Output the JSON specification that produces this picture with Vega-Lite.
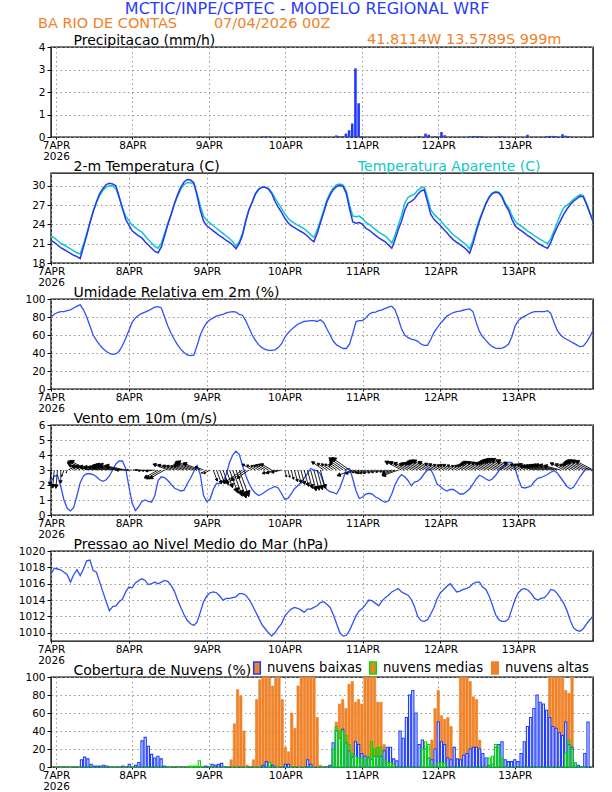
{
"$schema":"https://vega.github.io/schema/vega-lite/v6.json",
"padding":{"left":17,"top":1,"right":5,"bottom":0},
"background":"white",
"bounds":"flush",
"spacing":36,
"resolve":{"scale":{"stroke":"independent","size":"independent"},"legend":{"stroke":"independent","size":"independent"}},
"title":{"text":"MCTIC/INPE/CPTEC - MODELO REGIONAL WRF","color":"#2a3cf5","fontSize":16,"font":"DejaVu Sans","fontWeight":"normal","anchor":"middle","frame":"bounds","offset":-2},
"config":{
"font":"DejaVu Sans",
"view":{"stroke":"black","strokeWidth":1.4},
"axis":{"labelFont":"DejaVu Sans","labelFontSize":10.5,"labelColor":"black","domain":false,"grid":true,"gridColor":"#999999","gridDash":[1.5,3],"tickColor":"black","titleFont":"DejaVu Sans","titleFontSize":14,"titleFontWeight":"normal","titleColor":"black","labelOverlap":false},
"axisY":{"tickSize":4,"labelPadding":2},
"axisX":{"tickSize":2,"labelPadding":1}
},
"datasets":{"h":[
{"t":0,"p":0,"T":21.5,"A":22.2,"rh":80,"ws":2.2,"wd":185,"slp":1017.2,"lo":0,"mi":0,"hi":0},
{"t":1,"p":0,"T":21.2,"A":21.9,"rh":83,"ws":2.6,"wd":185,"slp":1017.9,"lo":0,"mi":0,"hi":0},
{"t":2,"p":0,"T":20.8,"A":21.5,"rh":85,"ws":2.65,"wd":185,"slp":1017.8,"lo":0,"mi":0,"hi":0},
{"t":3,"p":0,"T":20.4,"A":21.1,"rh":86,"ws":1.9,"wd":180,"slp":1017.7,"lo":0,"mi":0,"hi":0},
{"t":4,"p":0,"T":20.1,"A":20.8,"rh":86,"ws":1.0,"wd":200,"slp":1017.4,"lo":0,"mi":0,"hi":0},
{"t":5,"p":0,"T":19.8,"A":20.5,"rh":87,"ws":0.45,"wd":200,"slp":1017.1,"lo":0,"mi":0,"hi":0},
{"t":6,"p":0,"T":19.5,"A":20.2,"rh":88,"ws":0.27,"wd":300,"slp":1016.2,"lo":0,"mi":0,"hi":0},
{"t":7,"p":0,"T":19.2,"A":19.9,"rh":90,"ws":0.5,"wd":300,"slp":1017.1,"lo":0,"mi":0,"hi":0},
{"t":8,"p":0,"T":19.0,"A":19.6,"rh":92,"ws":1.3,"wd":300,"slp":1017.7,"lo":8,"mi":0,"hi":0},
{"t":9,"p":0,"T":18.7,"A":19.4,"rh":93.5,"ws":2.15,"wd":300,"slp":1017.0,"lo":11,"mi":0,"hi":0},
{"t":10,"p":0,"T":20.5,"A":20.9,"rh":88,"ws":2.6,"wd":300,"slp":1017.8,"lo":9,"mi":0,"hi":0},
{"t":11,"p":0,"T":22.3,"A":22.6,"rh":80,"ws":2.75,"wd":300,"slp":1018.8,"lo":3,"mi":0,"hi":0},
{"t":12,"p":0,"T":24.2,"A":24.4,"rh":70,"ws":2.75,"wd":282,"slp":1018.9,"lo":1,"mi":0,"hi":0},
{"t":13,"p":0,"T":26.0,"A":26.0,"rh":60,"ws":2.7,"wd":282,"slp":1017.6,"lo":1,"mi":0,"hi":0},
{"t":14,"p":0,"T":27.5,"A":27.4,"rh":54,"ws":2.55,"wd":282,"slp":1017.4,"lo":1,"mi":0,"hi":0},
{"t":15,"p":0,"T":28.8,"A":28.5,"rh":49,"ws":2.35,"wd":282,"slp":1016.2,"lo":2,"mi":0,"hi":0},
{"t":16,"p":0,"T":29.6,"A":29.3,"rh":45,"ws":2.25,"wd":282,"slp":1015.0,"lo":1,"mi":0,"hi":0},
{"t":17,"p":0,"T":30.2,"A":29.8,"rh":42,"ws":2.35,"wd":282,"slp":1013.8,"lo":0,"mi":0,"hi":0},
{"t":18,"p":0,"T":30.4,"A":30.0,"rh":39.5,"ws":2.6,"wd":282,"slp":1012.7,"lo":0,"mi":0,"hi":0},
{"t":19,"p":0,"T":30.3,"A":30.0,"rh":38.5,"ws":3.0,"wd":282,"slp":1013.2,"lo":0,"mi":0,"hi":0},
{"t":20,"p":0,"T":30.0,"A":29.5,"rh":39,"ws":3.4,"wd":282,"slp":1013.3,"lo":0,"mi":0,"hi":0},
{"t":21,"p":0,"T":28.3,"A":28.2,"rh":42,"ws":3.6,"wd":282,"slp":1013.8,"lo":1,"mi":0,"hi":0},
{"t":22,"p":0,"T":26.5,"A":26.6,"rh":48,"ws":3.6,"wd":282,"slp":1014.1,"lo":0,"mi":0,"hi":0},
{"t":23,"p":0,"T":24.8,"A":25.3,"rh":56,"ws":3.1,"wd":282,"slp":1015.0,"lo":3,"mi":0,"hi":0},
{"t":24,"p":0,"T":23.9,"A":24.6,"rh":65,"ws":1.9,"wd":270,"slp":1015.6,"lo":0,"mi":0,"hi":0},
{"t":25,"p":0,"T":23.0,"A":23.9,"rh":74,"ws":0.8,"wd":270,"slp":1015.5,"lo":2,"mi":0,"hi":0},
{"t":26,"p":0,"T":22.6,"A":23.5,"rh":79,"ws":0.3,"wd":270,"slp":1016.1,"lo":5,"mi":0,"hi":0},
{"t":27,"p":0,"T":22.2,"A":23.1,"rh":82,"ws":0.55,"wd":270,"slp":1016.4,"lo":29,"mi":0,"hi":0},
{"t":28,"p":0,"T":21.9,"A":22.8,"rh":84,"ws":0.9,"wd":270,"slp":1016.6,"lo":33,"mi":0,"hi":0},
{"t":29,"p":0,"T":21.3,"A":22.2,"rh":85.5,"ws":1.0,"wd":262,"slp":1016.4,"lo":23,"mi":0,"hi":0},
{"t":30,"p":0,"T":20.8,"A":21.6,"rh":87,"ws":0.9,"wd":262,"slp":1015.9,"lo":14,"mi":0,"hi":0},
{"t":31,"p":0,"T":20.3,"A":21.1,"rh":89,"ws":0.85,"wd":262,"slp":1016.0,"lo":10,"mi":0,"hi":0},
{"t":32,"p":0,"T":19.8,"A":20.6,"rh":91,"ws":1.3,"wd":262,"slp":1016.2,"lo":12,"mi":0,"hi":0},
{"t":33,"p":0,"T":19.6,"A":20.3,"rh":91.5,"ws":2.3,"wd":240,"slp":1016.0,"lo":9,"mi":0,"hi":0},
{"t":34,"p":0,"T":20.5,"A":21.1,"rh":90,"ws":2.55,"wd":240,"slp":1016.2,"lo":1,"mi":0,"hi":0},
{"t":35,"p":0,"T":22.2,"A":22.6,"rh":80,"ws":2.5,"wd":240,"slp":1016.4,"lo":0,"mi":0,"hi":0},
{"t":36,"p":0,"T":24.0,"A":24.2,"rh":70,"ws":2.3,"wd":292,"slp":1016.3,"lo":0,"mi":0,"hi":0},
{"t":37,"p":0,"T":25.5,"A":25.6,"rh":62,"ws":2.05,"wd":292,"slp":1015.8,"lo":0,"mi":0,"hi":0},
{"t":38,"p":0,"T":27.2,"A":27.1,"rh":55,"ws":1.8,"wd":292,"slp":1015.1,"lo":0,"mi":0,"hi":0},
{"t":39,"p":0,"T":28.6,"A":28.4,"rh":49,"ws":1.7,"wd":292,"slp":1014.0,"lo":0,"mi":0,"hi":0},
{"t":40,"p":0,"T":29.8,"A":29.5,"rh":44,"ws":1.6,"wd":292,"slp":1013.1,"lo":0,"mi":0,"hi":0},
{"t":41,"p":0,"T":30.6,"A":30.2,"rh":40.5,"ws":1.65,"wd":292,"slp":1012.2,"lo":0,"mi":0,"hi":0},
{"t":42,"p":0,"T":31.0,"A":30.5,"rh":38,"ws":2.1,"wd":292,"slp":1011.5,"lo":0,"mi":1,"hi":0},
{"t":43,"p":0,"T":30.9,"A":30.5,"rh":37,"ws":2.45,"wd":292,"slp":1011.1,"lo":0,"mi":1,"hi":0},
{"t":44,"p":0,"T":30.5,"A":30.3,"rh":37.5,"ws":2.9,"wd":292,"slp":1010.9,"lo":0,"mi":1,"hi":0},
{"t":45,"p":0.03,"T":28.5,"A":28.8,"rh":48,"ws":3.3,"wd":292,"slp":1011.3,"lo":0,"mi":7,"hi":0},
{"t":46,"p":0,"T":26.2,"A":26.9,"rh":60,"ws":2.7,"wd":292,"slp":1012.5,"lo":0,"mi":0,"hi":0},
{"t":47,"p":0,"T":24.5,"A":25.3,"rh":68,"ws":1.3,"wd":292,"slp":1013.8,"lo":1,"mi":0,"hi":0},
{"t":48,"p":0,"T":23.8,"A":24.6,"rh":74,"ws":0.9,"wd":240,"slp":1014.5,"lo":0,"mi":0,"hi":0},
{"t":49,"p":0,"T":23.4,"A":24.2,"rh":77,"ws":1.05,"wd":240,"slp":1014.9,"lo":3,"mi":0,"hi":0},
{"t":50,"p":0,"T":23.0,"A":23.8,"rh":79,"ws":1.7,"wd":160,"slp":1015.0,"lo":2,"mi":0,"hi":0},
{"t":51,"p":0,"T":22.6,"A":23.4,"rh":81,"ws":2.1,"wd":160,"slp":1014.9,"lo":3,"mi":0,"hi":0},
{"t":52,"p":0,"T":22.2,"A":23.0,"rh":82,"ws":2.1,"wd":160,"slp":1014.5,"lo":4,"mi":0,"hi":0},
{"t":53,"p":0,"T":21.9,"A":22.6,"rh":83,"ws":2.25,"wd":160,"slp":1014.0,"lo":0,"mi":0,"hi":0},
{"t":54,"p":0,"T":21.5,"A":22.2,"rh":84.5,"ws":2.7,"wd":160,"slp":1014.2,"lo":0,"mi":0,"hi":0},
{"t":55,"p":0,"T":21.2,"A":21.8,"rh":85.5,"ws":3.5,"wd":160,"slp":1014.2,"lo":0,"mi":0,"hi":8},
{"t":56,"p":0,"T":20.8,"A":21.3,"rh":86,"ws":4.0,"wd":160,"slp":1014.3,"lo":0,"mi":0,"hi":48},
{"t":57,"p":0,"T":20.2,"A":20.6,"rh":85.5,"ws":4.25,"wd":160,"slp":1014.4,"lo":0,"mi":0,"hi":86},
{"t":58,"p":0,"T":21.0,"A":21.3,"rh":83,"ws":4.05,"wd":160,"slp":1014.8,"lo":0,"mi":0,"hi":79},
{"t":59,"p":0,"T":22.3,"A":22.6,"rh":82,"ws":3.3,"wd":235,"slp":1014.8,"lo":0,"mi":0,"hi":40},
{"t":60,"p":0,"T":24.5,"A":24.6,"rh":76,"ws":2.65,"wd":235,"slp":1014.6,"lo":0,"mi":0,"hi":2},
{"t":61,"p":0,"T":26.3,"A":26.3,"rh":68,"ws":2.1,"wd":235,"slp":1014.1,"lo":0,"mi":0,"hi":0},
{"t":62,"p":0,"T":27.5,"A":27.5,"rh":60,"ws":1.7,"wd":300,"slp":1013.4,"lo":0,"mi":0,"hi":8},
{"t":63,"p":0,"T":28.8,"A":28.7,"rh":54,"ws":1.45,"wd":300,"slp":1012.6,"lo":0,"mi":0,"hi":75},
{"t":64,"p":0,"T":29.5,"A":29.4,"rh":49,"ws":1.3,"wd":300,"slp":1011.8,"lo":0,"mi":0,"hi":97},
{"t":65,"p":0.03,"T":29.8,"A":29.8,"rh":46,"ws":1.4,"wd":300,"slp":1011.0,"lo":2,"mi":0,"hi":100},
{"t":66,"p":0.03,"T":29.8,"A":29.8,"rh":44,"ws":1.55,"wd":300,"slp":1010.5,"lo":6,"mi":0,"hi":100},
{"t":67,"p":0.03,"T":29.5,"A":29.6,"rh":43,"ws":1.7,"wd":300,"slp":1010.0,"lo":5,"mi":5,"hi":100},
{"t":68,"p":0,"T":28.8,"A":29.0,"rh":43,"ws":1.8,"wd":300,"slp":1009.6,"lo":2,"mi":0,"hi":90},
{"t":69,"p":0,"T":27.6,"A":28.1,"rh":43.5,"ws":1.9,"wd":255,"slp":1010.0,"lo":0,"mi":0,"hi":100},
{"t":70,"p":0,"T":26.7,"A":27.3,"rh":46,"ws":1.8,"wd":255,"slp":1010.6,"lo":0,"mi":0,"hi":100},
{"t":71,"p":0,"T":25.9,"A":26.5,"rh":50,"ws":1.45,"wd":255,"slp":1011.1,"lo":0,"mi":0,"hi":75},
{"t":72,"p":0,"T":25.0,"A":25.7,"rh":57,"ws":1.05,"wd":165,"slp":1012.0,"lo":3,"mi":0,"hi":22},
{"t":73,"p":0,"T":24.3,"A":25.0,"rh":62,"ws":1.1,"wd":165,"slp":1012.5,"lo":3,"mi":0,"hi":17},
{"t":74,"p":0,"T":23.8,"A":24.5,"rh":66,"ws":1.4,"wd":165,"slp":1012.9,"lo":0,"mi":0,"hi":60},
{"t":75,"p":0,"T":23.5,"A":24.2,"rh":69,"ws":1.75,"wd":165,"slp":1013.1,"lo":0,"mi":0,"hi":43},
{"t":76,"p":0,"T":23.2,"A":23.9,"rh":72,"ws":1.95,"wd":165,"slp":1013.0,"lo":0,"mi":0,"hi":90},
{"t":77,"p":0,"T":22.9,"A":23.6,"rh":73.5,"ws":2.15,"wd":165,"slp":1012.8,"lo":0,"mi":0,"hi":100},
{"t":78,"p":0,"T":22.6,"A":23.3,"rh":75,"ws":2.45,"wd":165,"slp":1012.5,"lo":0,"mi":0,"hi":100},
{"t":79,"p":0,"T":22.2,"A":22.9,"rh":75.5,"ws":2.75,"wd":165,"slp":1012.9,"lo":8,"mi":0,"hi":100},
{"t":80,"p":0,"T":21.7,"A":22.4,"rh":76,"ws":3.1,"wd":165,"slp":1012.9,"lo":3,"mi":0,"hi":100},
{"t":81,"p":0,"T":21.3,"A":22.0,"rh":76,"ws":3.0,"wd":165,"slp":1013.1,"lo":0,"mi":0,"hi":100},
{"t":82,"p":0,"T":22.6,"A":23.1,"rh":75,"ws":2.95,"wd":165,"slp":1013.3,"lo":0,"mi":0,"hi":55},
{"t":83,"p":0,"T":24.2,"A":24.6,"rh":77,"ws":2.75,"wd":165,"slp":1013.7,"lo":0,"mi":0,"hi":2},
{"t":84,"p":0,"T":25.8,"A":26.2,"rh":74,"ws":2.1,"wd":305,"slp":1013.8,"lo":0,"mi":0,"hi":0},
{"t":85,"p":0,"T":27.5,"A":27.8,"rh":67,"ws":1.7,"wd":305,"slp":1013.5,"lo":0,"mi":0,"hi":0},
{"t":86,"p":0,"T":28.6,"A":28.9,"rh":60,"ws":1.55,"wd":305,"slp":1013.1,"lo":2,"mi":0,"hi":0},
{"t":87,"p":0,"T":29.4,"A":29.7,"rh":53,"ws":1.5,"wd":305,"slp":1012.2,"lo":27,"mi":20,"hi":8},
{"t":88,"p":0.07,"T":29.9,"A":30.2,"rh":49,"ws":1.4,"wd":305,"slp":1011.1,"lo":40,"mi":45,"hi":50},
{"t":89,"p":0.03,"T":30.1,"A":30.3,"rh":47,"ws":1.8,"wd":305,"slp":1010.0,"lo":32,"mi":40,"hi":70},
{"t":90,"p":0.03,"T":29.9,"A":30.1,"rh":45,"ws":2.4,"wd":305,"slp":1009.6,"lo":42,"mi":40,"hi":75},
{"t":91,"p":0.15,"T":28.8,"A":29.2,"rh":45,"ws":3.05,"wd":305,"slp":1009.7,"lo":27,"mi":35,"hi":65},
{"t":92,"p":0.3,"T":26.4,"A":27.0,"rh":50,"ws":3.1,"wd":305,"slp":1010.3,"lo":18,"mi":25,"hi":92},
{"t":93,"p":0.6,"T":24.4,"A":25.3,"rh":62,"ws":2.4,"wd":250,"slp":1011.2,"lo":11,"mi":15,"hi":95},
{"t":94,"p":3.05,"T":24.2,"A":25.2,"rh":75,"ws":1.6,"wd":250,"slp":1012.1,"lo":28,"mi":12,"hi":72},
{"t":95,"p":1.5,"T":24.3,"A":25.3,"rh":76,"ws":1.1,"wd":250,"slp":1012.7,"lo":25,"mi":10,"hi":75},
{"t":96,"p":0.03,"T":24.0,"A":24.9,"rh":76,"ws":1.2,"wd":250,"slp":1013.0,"lo":15,"mi":10,"hi":70},
{"t":97,"p":0,"T":23.4,"A":24.3,"rh":79,"ws":1.4,"wd":250,"slp":1013.5,"lo":12,"mi":8,"hi":100},
{"t":98,"p":0,"T":23.1,"A":24.0,"rh":83,"ws":1.45,"wd":250,"slp":1014.0,"lo":10,"mi":12,"hi":100},
{"t":99,"p":0,"T":22.7,"A":23.6,"rh":85,"ws":1.4,"wd":250,"slp":1013.9,"lo":8,"mi":28,"hi":100},
{"t":100,"p":0,"T":22.3,"A":23.2,"rh":85.5,"ws":1.2,"wd":250,"slp":1013.6,"lo":12,"mi":20,"hi":100},
{"t":101,"p":0,"T":21.9,"A":22.8,"rh":87,"ws":1.1,"wd":250,"slp":1013.3,"lo":12,"mi":22,"hi":72},
{"t":102,"p":0,"T":21.6,"A":22.5,"rh":88,"ws":0.95,"wd":250,"slp":1013.9,"lo":12,"mi":22,"hi":72},
{"t":103,"p":0,"T":21.3,"A":22.2,"rh":89.5,"ws":0.85,"wd":250,"slp":1014.3,"lo":18,"mi":8,"hi":25},
{"t":104,"p":0,"T":20.8,"A":21.7,"rh":91,"ws":0.95,"wd":250,"slp":1014.6,"lo":22,"mi":5,"hi":8},
{"t":105,"p":0,"T":20.3,"A":21.1,"rh":92,"ws":1.4,"wd":250,"slp":1015.0,"lo":22,"mi":5,"hi":0},
{"t":106,"p":0,"T":21.6,"A":22.3,"rh":88,"ws":2.0,"wd":250,"slp":1015.2,"lo":9,"mi":3,"hi":0},
{"t":107,"p":0,"T":23.2,"A":23.9,"rh":78,"ws":2.45,"wd":250,"slp":1015.4,"lo":7,"mi":0,"hi":0},
{"t":108,"p":0.02,"T":24.5,"A":25.4,"rh":67,"ws":2.7,"wd":298,"slp":1015.0,"lo":40,"mi":0,"hi":0},
{"t":109,"p":0,"T":26.2,"A":27.3,"rh":60,"ws":2.55,"wd":298,"slp":1014.8,"lo":32,"mi":0,"hi":0},
{"t":110,"p":0,"T":27.3,"A":28.2,"rh":57,"ws":2.3,"wd":298,"slp":1014.6,"lo":55,"mi":0,"hi":0},
{"t":111,"p":0,"T":27.6,"A":28.5,"rh":55.5,"ws":1.95,"wd":298,"slp":1014.1,"lo":80,"mi":0,"hi":0},
{"t":112,"p":0,"T":28.0,"A":28.7,"rh":54.5,"ws":2.2,"wd":298,"slp":1013.2,"lo":85,"mi":0,"hi":0},
{"t":113,"p":0,"T":28.7,"A":29.3,"rh":53,"ws":2.25,"wd":298,"slp":1012.0,"lo":60,"mi":0,"hi":0},
{"t":114,"p":0.04,"T":29.2,"A":29.7,"rh":50,"ws":2.45,"wd":298,"slp":1011.5,"lo":25,"mi":0,"hi":0},
{"t":115,"p":0,"T":29.4,"A":29.8,"rh":48.5,"ws":2.75,"wd":298,"slp":1011.4,"lo":30,"mi":20,"hi":0},
{"t":116,"p":0.15,"T":27.5,"A":28.2,"rh":48.5,"ws":3.0,"wd":298,"slp":1011.6,"lo":20,"mi":28,"hi":0},
{"t":117,"p":0.1,"T":25.6,"A":26.3,"rh":55,"ws":3.05,"wd":298,"slp":1012.3,"lo":10,"mi":25,"hi":5},
{"t":118,"p":0,"T":24.8,"A":25.6,"rh":63,"ws":2.6,"wd":298,"slp":1013.1,"lo":8,"mi":3,"hi":30},
{"t":119,"p":0.04,"T":24.3,"A":25.1,"rh":68,"ws":2.05,"wd":298,"slp":1014.2,"lo":20,"mi":0,"hi":65},
{"t":120,"p":0,"T":23.8,"A":24.6,"rh":73,"ws":1.9,"wd":298,"slp":1014.9,"lo":50,"mi":5,"hi":85},
{"t":121,"p":0.22,"T":23.2,"A":24.0,"rh":77,"ws":1.7,"wd":298,"slp":1015.3,"lo":28,"mi":5,"hi":57},
{"t":122,"p":0.08,"T":22.7,"A":23.5,"rh":81,"ws":1.6,"wd":298,"slp":1015.7,"lo":25,"mi":4,"hi":53},
{"t":123,"p":0,"T":22.1,"A":22.9,"rh":83,"ws":1.7,"wd":298,"slp":1016.0,"lo":10,"mi":0,"hi":55},
{"t":124,"p":0,"T":21.6,"A":22.4,"rh":85,"ws":1.7,"wd":298,"slp":1015.5,"lo":8,"mi":0,"hi":45},
{"t":125,"p":0,"T":21.2,"A":22.0,"rh":86,"ws":1.55,"wd":298,"slp":1015.0,"lo":22,"mi":0,"hi":22},
{"t":126,"p":0,"T":20.9,"A":21.6,"rh":86.5,"ws":1.4,"wd":298,"slp":1015.1,"lo":9,"mi":0,"hi":5},
{"t":127,"p":0,"T":20.5,"A":21.2,"rh":87.5,"ws":1.4,"wd":298,"slp":1015.3,"lo":8,"mi":0,"hi":100},
{"t":128,"p":0,"T":20.1,"A":20.8,"rh":88.5,"ws":1.55,"wd":298,"slp":1015.4,"lo":13,"mi":0,"hi":100},
{"t":129,"p":0,"T":19.5,"A":20.2,"rh":89,"ws":1.75,"wd":298,"slp":1015.6,"lo":15,"mi":0,"hi":100},
{"t":130,"p":0.03,"T":21.0,"A":21.5,"rh":86,"ws":2.05,"wd":298,"slp":1016.0,"lo":20,"mi":0,"hi":95},
{"t":131,"p":0.04,"T":22.8,"A":23.2,"rh":74,"ws":2.4,"wd":298,"slp":1016.2,"lo":22,"mi":0,"hi":78},
{"t":132,"p":0.04,"T":24.5,"A":24.8,"rh":64,"ws":2.65,"wd":298,"slp":1016.2,"lo":22,"mi":0,"hi":75},
{"t":133,"p":0.04,"T":25.9,"A":26.1,"rh":58,"ws":2.55,"wd":298,"slp":1015.6,"lo":20,"mi":0,"hi":30},
{"t":134,"p":0.03,"T":27.2,"A":27.3,"rh":54,"ws":2.4,"wd":298,"slp":1015.3,"lo":15,"mi":0,"hi":5},
{"t":135,"p":0,"T":28.2,"A":28.3,"rh":50,"ws":2.3,"wd":298,"slp":1014.5,"lo":10,"mi":0,"hi":0},
{"t":136,"p":0,"T":28.8,"A":28.9,"rh":47,"ws":2.4,"wd":298,"slp":1013.4,"lo":2,"mi":10,"hi":0},
{"t":137,"p":0,"T":29.0,"A":29.1,"rh":45.5,"ws":2.65,"wd":298,"slp":1012.2,"lo":3,"mi":12,"hi":0},
{"t":138,"p":0,"T":28.9,"A":29.0,"rh":45,"ws":2.95,"wd":298,"slp":1011.6,"lo":22,"mi":25,"hi":0},
{"t":139,"p":0.03,"T":28.2,"A":28.4,"rh":45.5,"ws":3.15,"wd":298,"slp":1011.4,"lo":25,"mi":22,"hi":0},
{"t":140,"p":0.03,"T":27.0,"A":27.3,"rh":47,"ws":3.35,"wd":298,"slp":1011.4,"lo":28,"mi":10,"hi":0},
{"t":141,"p":0,"T":26.2,"A":26.6,"rh":50,"ws":3.5,"wd":298,"slp":1011.7,"lo":8,"mi":0,"hi":0},
{"t":142,"p":0,"T":24.8,"A":25.4,"rh":58,"ws":3.5,"wd":298,"slp":1012.9,"lo":6,"mi":0,"hi":0},
{"t":143,"p":0,"T":23.8,"A":24.5,"rh":70,"ws":3.1,"wd":298,"slp":1014.1,"lo":6,"mi":0,"hi":0},
{"t":144,"p":0,"T":23.3,"A":24.0,"rh":76,"ws":2.4,"wd":298,"slp":1014.9,"lo":8,"mi":0,"hi":0},
{"t":145,"p":0,"T":23.0,"A":23.7,"rh":79,"ws":1.85,"wd":298,"slp":1015.3,"lo":6,"mi":0,"hi":0},
{"t":146,"p":0,"T":22.6,"A":23.3,"rh":81,"ws":1.8,"wd":298,"slp":1015.4,"lo":15,"mi":0,"hi":0},
{"t":147,"p":0,"T":22.2,"A":22.9,"rh":83,"ws":1.85,"wd":298,"slp":1015.2,"lo":28,"mi":0,"hi":0},
{"t":148,"p":0.1,"T":21.9,"A":22.6,"rh":85,"ws":1.95,"wd":298,"slp":1014.8,"lo":45,"mi":0,"hi":0},
{"t":149,"p":0,"T":21.5,"A":22.2,"rh":86,"ws":2.25,"wd":285,"slp":1014.2,"lo":55,"mi":0,"hi":0},
{"t":150,"p":0,"T":21.1,"A":21.9,"rh":86,"ws":2.45,"wd":285,"slp":1014.0,"lo":65,"mi":0,"hi":0},
{"t":151,"p":0,"T":20.8,"A":21.6,"rh":86,"ws":2.5,"wd":285,"slp":1014.2,"lo":80,"mi":0,"hi":0},
{"t":152,"p":0,"T":20.5,"A":21.3,"rh":86,"ws":2.6,"wd":285,"slp":1014.3,"lo":72,"mi":0,"hi":0},
{"t":153,"p":0,"T":20.3,"A":21.0,"rh":87,"ws":2.7,"wd":285,"slp":1014.7,"lo":70,"mi":0,"hi":0},
{"t":154,"p":0.04,"T":21.2,"A":21.8,"rh":84,"ws":2.85,"wd":285,"slp":1015.3,"lo":63,"mi":0,"hi":0},
{"t":155,"p":0.05,"T":22.5,"A":23.0,"rh":74,"ws":2.95,"wd":285,"slp":1015.2,"lo":55,"mi":0,"hi":100},
{"t":156,"p":0.05,"T":23.6,"A":24.3,"rh":65,"ws":2.8,"wd":285,"slp":1014.8,"lo":45,"mi":0,"hi":100},
{"t":157,"p":0.04,"T":24.6,"A":25.6,"rh":60,"ws":2.5,"wd":285,"slp":1014.2,"lo":43,"mi":0,"hi":100},
{"t":158,"p":0,"T":25.6,"A":26.6,"rh":57,"ws":2.2,"wd":298,"slp":1013.6,"lo":38,"mi":0,"hi":100},
{"t":159,"p":0.12,"T":26.4,"A":27.0,"rh":55,"ws":1.9,"wd":298,"slp":1012.7,"lo":35,"mi":0,"hi":100},
{"t":160,"p":0.06,"T":27.1,"A":27.4,"rh":53,"ws":1.75,"wd":298,"slp":1011.5,"lo":50,"mi":15,"hi":85},
{"t":161,"p":0.03,"T":27.6,"A":27.9,"rh":51,"ws":1.85,"wd":298,"slp":1010.6,"lo":25,"mi":30,"hi":82},
{"t":162,"p":0,"T":28.0,"A":28.3,"rh":49,"ws":2.2,"wd":298,"slp":1010.3,"lo":22,"mi":20,"hi":100},
{"t":163,"p":0,"T":28.4,"A":28.6,"rh":47,"ws":2.55,"wd":298,"slp":1010.2,"lo":5,"mi":5,"hi":5},
{"t":164,"p":0,"T":28.3,"A":28.5,"rh":47.5,"ws":2.85,"wd":298,"slp":1010.5,"lo":2,"mi":0,"hi":0},
{"t":165,"p":0,"T":27.1,"A":27.3,"rh":52,"ws":3.1,"wd":298,"slp":1011.1,"lo":0,"mi":0,"hi":0},
{"t":166,"p":0,"T":25.8,"A":25.9,"rh":58,"ws":3.05,"wd":298,"slp":1011.6,"lo":15,"mi":0,"hi":0},
{"t":167,"p":0,"T":24.4,"A":24.6,"rh":65,"ws":2.9,"wd":298,"slp":1012.0,"lo":50,"mi":0,"hi":0}
]},
"vconcat":[
{
"width":542,"height":90,
"title":{"text":"BA RIO DE CONTAS\u00a0\u00a0\u00a0\u00a0\u00a0\u00a0\u00a0 07/04/2026 00Z","anchor":"start","frame":"group","dx":-13,"color":"#f08228","fontSize":14.5,"fontWeight":"normal","font":"DejaVu Sans","offset":0},
"data":{"name":"h"},
"mark":{"type":"bar","color":"#1e3cff","width":2.6},
"encoding":{
"x":{"field":"t","type":"quantitative","scale":{"domain":[0,167],"nice":false,"zero":false},"axis":{"values":[0,24,48,72,96,120,144],"labelExpr":"datum.value == 0 ? ['7APR','2026'] : (7 + datum.value/24) + 'APR'","labelOverlap":false,"labelFlush":false,"labelLineHeight":11,"title":"41.8114W 13.5789S 999m","titleColor":"#f08228","titleFontSize":14.5,"titleX":510,"titleY":-93.5,"titleAlign":"right","titleBaseline":"alphabetic","titleAngle":0}},
"y":{"field":"p","type":"quantitative","scale":{"domain":[0,4],"nice":false},"axis":{"values":[0,1,2,3,4],"title":"Precipitacao (mm/h)","titleAngle":0,"titleX":22,"titleY":-3,"titleAlign":"left","titleBaseline":"alphabetic"}}
}
},
{
"width":542,"height":90,
"data":{"name":"h"},
"encoding":{
"x":{"field":"t","type":"quantitative","scale":{"domain":[0,167],"nice":false,"zero":false},"axis":{"values":[0,24,48,72,96,120,144],"labelExpr":"datum.value == 0 ? ['7APR','2026'] : (7 + datum.value/24) + 'APR'","labelOverlap":false,"labelFlush":false,"labelLineHeight":11,"title":"Temperatura Aparente (C)","titleColor":"#10c8c8","titleFontSize":14,"titleX":489,"titleY":-93,"titleAlign":"right","titleBaseline":"alphabetic","titleAngle":0}}
},
"layer":[
{"mark":{"type":"line","color":"#10c8c8","strokeWidth":1.5},
"encoding":{"y":{"field":"A","type":"quantitative","scale":{"domain":[18,32],"nice":false,"zero":false},"axis":{"values":[18,21,24,27,30],"title":"2-m Temperatura (C)","titleAngle":0,"titleX":22,"titleY":-3,"titleAlign":"left","titleBaseline":"alphabetic"}}}},
{"mark":{"type":"line","color":"#2a35f0","strokeWidth":1.5},
"encoding":{"y":{"field":"T","type":"quantitative","axis":{"values":[18,21,24,27,30],"title":"2-m Temperatura (C)","titleAngle":0,"titleX":22,"titleY":-3,"titleAlign":"left","titleBaseline":"alphabetic"}}}}
]
},
{
"width":542,"height":90,
"data":{"name":"h"},
"mark":{"type":"line","color":"#3050f8","strokeWidth":1.3},
"encoding":{
"x":{"field":"t","type":"quantitative","scale":{"domain":[0,167],"nice":false,"zero":false},"axis":{"values":[0,24,48,72,96,120,144],"labelExpr":"datum.value == 0 ? ['7APR','2026'] : (7 + datum.value/24) + 'APR'","labelOverlap":false,"labelFlush":false,"labelLineHeight":11,"title":null}},
"y":{"field":"rh","type":"quantitative","scale":{"domain":[0,100],"nice":false},"axis":{"values":[0,20,40,60,80,100],"title":"Umidade Relativa em 2m (%)","titleAngle":0,"titleX":22,"titleY":-3,"titleAlign":"left","titleBaseline":"alphabetic"}}
}
},
{
"width":542,"height":90,
"data":{"name":"h"},
"encoding":{
"x":{"field":"t","type":"quantitative","scale":{"domain":[0,167],"nice":false,"zero":false},"axis":{"values":[0,24,48,72,96,120,144],"labelExpr":"datum.value == 0 ? ['7APR','2026'] : (7 + datum.value/24) + 'APR'","labelOverlap":false,"labelFlush":false,"labelLineHeight":11,"title":null}}
},
"layer":[
{"mark":{"type":"line","color":"#3050f8","strokeWidth":1.3},
"encoding":{"y":{"field":"ws","type":"quantitative","scale":{"domain":[0,6],"nice":false},"axis":{"values":[0,1,2,3,4,5,6],"title":"Vento em 10m (m/s)","titleAngle":0,"titleX":22,"titleY":-3,"titleAlign":"left","titleBaseline":"alphabetic"}}}},
{"mark":{"type":"point","shape":"M0,0L0,-0.82M-0.11,-0.8L0,-1L0.11,-0.8Z","filled":true,"fill":"black","stroke":"black","strokeWidth":0.8,"opacity":1},
"encoding":{"y":{"datum":3,"type":"quantitative","axis":{"values":[0,1,2,3,4,5,6],"title":"Vento em 10m (m/s)","titleAngle":0,"titleX":22,"titleY":-3,"titleAlign":"left","titleBaseline":"alphabetic"}},
"angle":{"field":"wd","type":"quantitative","scale":null},
"size":{"field":"ws","type":"quantitative","scale":{"type":"pow","exponent":2,"domain":[0,5],"range":[0,4900]},"legend":null}}}
]
},
{
"width":542,"height":90,
"data":{"name":"h"},
"mark":{"type":"line","color":"#3050f8","strokeWidth":1.3},
"encoding":{
"x":{"field":"t","type":"quantitative","scale":{"domain":[0,167],"nice":false,"zero":false},"axis":{"values":[0,24,48,72,96,120,144],"labelExpr":"datum.value == 0 ? ['7APR','2026'] : (7 + datum.value/24) + 'APR'","labelOverlap":false,"labelFlush":false,"labelLineHeight":11,"title":null}},
"y":{"field":"slp","type":"quantitative","scale":{"domain":[1009,1020],"nice":false,"zero":false},"axis":{"values":[1010,1012,1014,1016,1018,1020],"format":"d","title":"Pressao ao Nivel Medio do Mar (hPa)","titleAngle":0,"titleX":22,"titleY":-3,"titleAlign":"left","titleBaseline":"alphabetic"}}
}
},
{
"width":542,"height":90,
"data":{"name":"h"},
"encoding":{
"x":{"field":"t","type":"quantitative","scale":{"domain":[0,167],"nice":false,"zero":false},"axis":{"values":[0,24,48,72,96,120,144],"labelExpr":"datum.value == 0 ? ['7APR','2026'] : (7 + datum.value/24) + 'APR'","labelOverlap":false,"labelFlush":false,"labelLineHeight":11,"title":null}}
},
"layer":[
{"mark":{"type":"bar","fill":"#f08228","width":2.4,"strokeWidth":0.6},
"encoding":{"y":{"field":"hi","type":"quantitative","stack":null,"scale":{"domain":[0,100],"nice":false},"axis":{"values":[0,20,40,60,80,100],"labelOverlap":false,"title":"Cobertura de Nuvens (%)","titleAngle":0,"titleX":22,"titleY":-3,"titleAlign":"left","titleBaseline":"alphabetic"}},
"stroke":{"datum":"nuvens altas","type":"nominal","scale":{"domain":["nuvens baixas","nuvens medias","nuvens altas"],"range":["#1e3cff","#00dc00","#f08228"]},
"legend":{"orient":"none","legendX":199,"legendY":-16,"direction":"horizontal","title":null,"symbolType":"M-0.55,-1H0.55V1H-0.55Z","symbolSize":144,"symbolStrokeWidth":1.5,"labelFont":"DejaVu Sans","labelFontSize":13.2,"labelOffset":3,"columnPadding":4,"padding":0,
"encode":{"symbols":{"update":{"fill":{"value":"transparent"}}},"labels":{"update":{"fill":{"signal":"datum.value === 'nuvens baixas' ? '#1e3cff' : datum.value === 'nuvens medias' ? '#00dc00' : '#f08228'"}}}}}}}},
{"mark":{"type":"bar","fill":"#e3e8ff","width":2.2,"strokeWidth":1.1},
"encoding":{"y":{"field":"lo","type":"quantitative","stack":null,"axis":{"values":[0,20,40,60,80,100],"labelOverlap":false,"title":"Cobertura de Nuvens (%)","titleAngle":0,"titleX":22,"titleY":-3,"titleAlign":"left","titleBaseline":"alphabetic"}},"stroke":{"datum":"nuvens baixas","type":"nominal"}}},
{"mark":{"type":"bar","fill":"transparent","width":2.2,"strokeWidth":1.1},
"encoding":{"y":{"field":"mi","type":"quantitative","stack":null,"axis":{"values":[0,20,40,60,80,100],"labelOverlap":false,"title":"Cobertura de Nuvens (%)","titleAngle":0,"titleX":22,"titleY":-3,"titleAlign":"left","titleBaseline":"alphabetic"}},"stroke":{"datum":"nuvens medias","type":"nominal"}}}
]
}
]
}
